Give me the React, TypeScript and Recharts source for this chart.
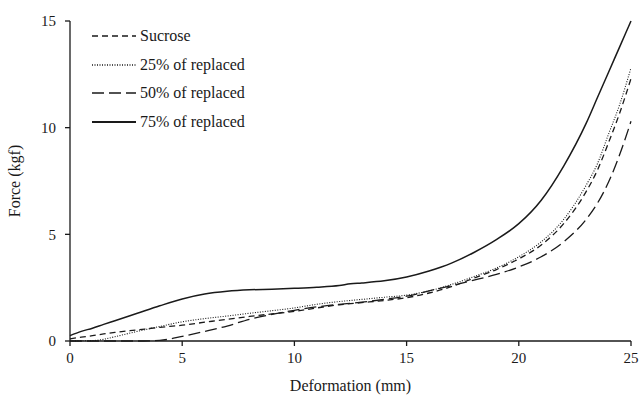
import { LineChart, Line, XAxis, YAxis } from "recharts";

const deformation = [0, 0.5, 1, 1.5, 2, 3, 4, 5, 6, 7, 8, 9, 10, 11, 12, 12.5, 13, 14, 15, 16, 17, 18, 19, 20, 21, 22, 23, 23.5, 24, 24.5, 25];

const sucrose = [0.1, 0.18, 0.25, 0.33, 0.4, 0.52, 0.64, 0.74, 0.88, 1.02, 1.15, 1.27, 1.39, 1.55, 1.7, 1.75, 1.8, 1.9, 2.03, 2.25, 2.55, 2.95, 3.35, 3.85, 4.5, 5.5, 7.0, 8.0, 9.3, 10.7, 12.3];
const replaced25 = [0, 0.01, 0.02, 0.08, 0.2, 0.45, 0.68, 0.9, 1.05, 1.17, 1.3, 1.42, 1.55, 1.72, 1.85, 1.9, 1.95, 2.05, 2.15, 2.35, 2.65, 3.02, 3.42, 3.95, 4.65, 5.7, 7.3, 8.3, 9.7, 11.1, 12.8];
const replaced50 = [0, 0, 0, 0, 0, 0, 0.03, 0.22, 0.45, 0.7, 1.02, 1.25, 1.44, 1.6, 1.72, 1.77, 1.82, 1.95, 2.1, 2.35, 2.6, 2.85, 3.12, 3.47, 3.95, 4.65, 5.7, 6.45, 7.45, 8.75, 10.3];
const replaced75 = [0.25, 0.45, 0.6, 0.78, 0.95, 1.3, 1.65, 1.97, 2.2, 2.33, 2.4, 2.43, 2.47, 2.52, 2.6, 2.68, 2.72, 2.82, 3.0, 3.28, 3.65, 4.15, 4.75, 5.5, 6.6, 8.2, 10.2, 11.4, 12.6, 13.8, 15.0];

const xTicks = [0, 5, 10, 15, 20, 25];
const yTicks = [0, 5, 10, 15];

const series = [
  { key: "sucrose", name: "Sucrose", dash: "6 4", width: 1.3 },
  { key: "r25", name: "25% of replaced", dash: "1 1.5", width: 1.1 },
  { key: "r50", name: "50% of replaced", dash: "12 5", width: 1.3 },
  { key: "r75", name: "75% of replaced", dash: undefined as string | undefined, width: 1.5 },
];

const FONT = "'Liberation Serif', 'Times New Roman', serif";
const INK = "#1a1a1a";

function LegendBox() {
  return (
    <div style={{ position: "absolute", left: 92, top: 22, fontFamily: FONT, fontSize: 16, color: INK, lineHeight: "16px" }}>
      {series.map((s) => (
        <div key={s.key} style={{ display: "flex", alignItems: "center", height: 28.5 }}>
          <svg width={46} height={10} style={{ marginRight: 2 }}>
            <line x1={0} y1={5} x2={44} y2={5} stroke={INK} strokeWidth={s.width + 0.3} strokeDasharray={s.dash} />
          </svg>
          <span>{s.name}</span>
        </div>
      ))}
    </div>
  );
}

export default function App() {
  const data = deformation.map((x, i) => ({
    x,
    sucrose: sucrose[i],
    r25: replaced25[i],
    r50: replaced50[i],
    r75: replaced75[i],
  }));

  return (
    <div style={{ position: "absolute", left: 0, top: 0, width: 641, height: 395, background: "#fff" }}>
      <LineChart width={641} height={395} data={data} margin={{ top: 21, right: 10, bottom: 0, left: 0 }}>
        <XAxis
          dataKey="x"
          type="number"
          domain={[0, 25]}
          ticks={xTicks}
          height={54}
          tickSize={5}
          tickMargin={6}
          stroke={INK}
          strokeWidth={1.3}
          tick={{ fontSize: 15, fontFamily: FONT, fill: INK }}
          label={{ value: "Deformation (mm)", position: "insideBottom", offset: 4, style: { fontSize: 16, fontFamily: FONT, fill: INK } }}
        />
        <YAxis
          type="number"
          domain={[0, 15]}
          ticks={yTicks}
          width={70}
          tickSize={5}
          tickMargin={9}
          stroke={INK}
          strokeWidth={1.3}
          tick={{ fontSize: 15, fontFamily: FONT, fill: INK }}
          label={{
            value: "Force (kgf)",
            angle: -90,
            position: "insideLeft",
            offset: 14,
            style: { fontSize: 16, fontFamily: FONT, fill: INK, textAnchor: "middle" },
          }}
        />
        {series.map((s) => (
          <Line
            key={s.key}
            type="monotone"
            dataKey={s.key}
            name={s.name}
            stroke={INK}
            strokeWidth={s.width}
            strokeDasharray={s.dash}
            dot={false}
            isAnimationActive={false}
          />
        ))}
      </LineChart>
      <LegendBox />
    </div>
  );
}
